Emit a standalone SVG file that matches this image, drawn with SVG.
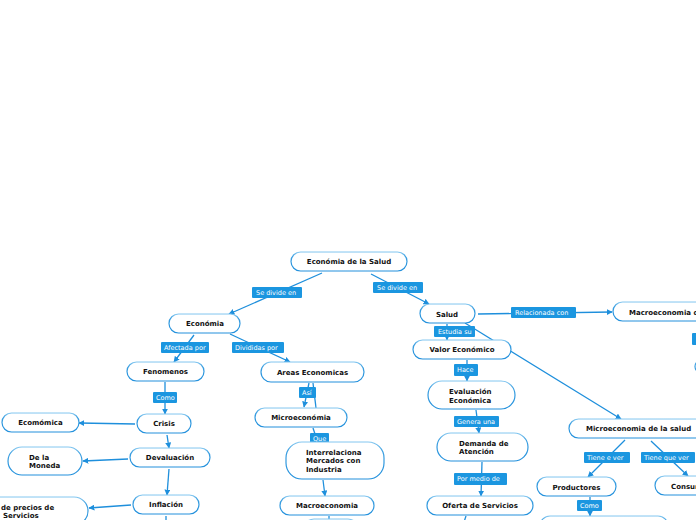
<svg xmlns="http://www.w3.org/2000/svg" width="696" height="520" viewBox="0 0 696 520">
<defs>
<linearGradient id="sg" x1="0" y1="0" x2="0" y2="1">
<stop offset="0" stop-color="#86c8f0"/>
<stop offset="0.25" stop-color="#3a9ee0"/>
<stop offset="1" stop-color="#2290dc"/>
</linearGradient>
<marker id="ah" viewBox="0 0 10 10" refX="9" refY="5" markerWidth="6" markerHeight="6" orient="auto" markerUnits="userSpaceOnUse">
<path d="M0,0 L10,5 L0,10 z" fill="#1e8fdc"/>
</marker>
<style>
.n{fill:#fff;stroke:url(#sg);stroke-width:1.2}
.t{font-family:"DejaVu Sans",Verdana,sans-serif;font-size:7px;font-weight:bold;fill:#111}
.c{text-anchor:middle}
.e{stroke:#1e8fdc;stroke-width:1.3;fill:none}
.a{marker-end:url(#ah)}
.lb{fill:#1b96e0}
.lt{font-family:"DejaVu Sans",Verdana,sans-serif;font-size:6.5px;fill:#fff}
</style>
</defs>
<rect width="696" height="520" fill="#fff"/>
<g id="connectors">
<line class="e a" x1="322" y1="273" x2="229" y2="314"/>
<line class="e a" x1="371" y1="274" x2="429" y2="304"/>
<line class="e a" x1="478" y1="314" x2="612" y2="312"/>
<line class="e a" x1="447" y1="324" x2="447" y2="340"/>
<line class="e a" x1="465" y1="323" x2="621" y2="419"/>
<line class="e a" x1="194" y1="335" x2="174" y2="362"/>
<line class="e a" x1="230" y1="334" x2="290" y2="362"/>
<line class="e a" x1="165" y1="382" x2="165" y2="414"/>
<line class="e a" x1="135" y1="424" x2="79" y2="423"/>
<line class="e a" x1="167" y1="435" x2="169" y2="448"/>
<line class="e a" x1="128" y1="459" x2="83" y2="461"/>
<line class="e a" x1="169" y1="469" x2="167" y2="495"/>
<line class="e a" x1="131" y1="505" x2="89" y2="508"/>
<line class="e" x1="166" y1="516" x2="166" y2="522"/>
<line class="e a" x1="309" y1="383" x2="304" y2="407"/>
<line class="e" x1="313" y1="383" x2="316" y2="408"/>
<line class="e a" x1="313" y1="428" x2="318" y2="443"/>
<line class="e a" x1="323" y1="480" x2="325" y2="496"/>
<line class="e" x1="329" y1="516" x2="329" y2="522"/>
<line class="e a" x1="467" y1="360" x2="467" y2="381"/>
<line class="e a" x1="476" y1="410" x2="479" y2="433"/>
<line class="e a" x1="482" y1="462" x2="481" y2="496"/>
<line class="e" x1="466" y1="516" x2="464" y2="522"/>
<line class="e a" x1="625" y1="440" x2="588" y2="477"/>
<line class="e a" x1="651" y1="441" x2="688" y2="476"/>
<line class="e a" x1="590" y1="497" x2="590" y2="516"/>
</g>
<g id="labels">
<rect class="lb" x="252" y="287" width="50" height="11" rx="1"/><text class="lt" x="256" y="295">Se divide en</text>
<rect class="lb" x="373" y="282" width="50" height="11" rx="1"/><text class="lt" x="377" y="290">Se divide en</text>
<rect class="lb" x="511" y="307" width="65" height="11" rx="1"/><text class="lt" x="515" y="315">Relacionada con</text>
<rect class="lb" x="434" y="326" width="41" height="11" rx="1"/><text class="lt" x="438" y="334">Estudia su</text>
<rect class="lb" x="161" y="342" width="48" height="11" rx="1"/><text class="lt" x="164" y="350">Afectada por</text>
<rect class="lb" x="232" y="342" width="52" height="11" rx="1"/><text class="lt" x="235" y="350">Divididas por</text>
<rect class="lb" x="153" y="392" width="24" height="11" rx="1"/><text class="lt" x="156" y="400">Como</text>
<rect class="lb" x="299" y="387" width="17" height="11" rx="1"/><text class="lt" x="302" y="395">Así</text>
<rect class="lb" x="310" y="433" width="19" height="10" rx="1"/><text class="lt" x="313" y="441">Que</text>
<rect class="lb" x="454" y="364" width="24" height="12" rx="1"/><text class="lt" x="457" y="372">Hace</text>
<rect class="lb" x="454" y="416" width="45" height="11" rx="1"/><text class="lt" x="457" y="424">Genera una</text>
<rect class="lb" x="454" y="473" width="53" height="12" rx="1"/><text class="lt" x="457" y="481">Por medio de</text>
<rect class="lb" x="584" y="452" width="46" height="11" rx="1"/><text class="lt" x="587" y="460">Tiene e ver</text>
<rect class="lb" x="641" y="452" width="54" height="11" rx="1"/><text class="lt" x="644" y="460">Tiene que ver</text>
<rect class="lb" x="577" y="500" width="25" height="11" rx="1"/><text class="lt" x="580" y="508">Como</text>
<rect class="lb" x="692" y="333" width="10" height="12" rx="1"/>
</g>
<g id="n-root"><rect class="n" x="291" y="252" width="116" height="19" rx="9.5"/><text class="t c" x="349" y="264">Económia de la Salud</text></g>
<g id="n-economia"><rect class="n" x="169" y="314" width="71" height="19" rx="9.5"/><text class="t c" x="205" y="326">Económia</text></g>
<g id="n-salud"><rect class="n" x="420" y="304" width="55" height="19" rx="9.5"/><text class="t c" x="447" y="316.5">Salud</text></g>
<g id="n-macrosalud"><rect class="n" x="613" y="302" width="110" height="19" rx="9.5"/><text class="t" x="629" y="314.5">Macroeconomia de la salud</text></g>
<g id="n-fenomenos"><rect class="n" x="127" y="362" width="77" height="19" rx="9.5"/><text class="t c" x="165.5" y="374">Fenomenos</text></g>
<g id="n-areas"><rect class="n" x="261" y="362" width="103" height="20" rx="10"/><text class="t c" x="312.5" y="374.5">Areas Economicas</text></g>
<g id="n-valor"><rect class="n" x="413" y="340" width="98" height="19" rx="9.5"/><text class="t c" x="462" y="352">Valor Económico</text></g>
<g id="n-evaluacion"><rect class="n" x="428" y="381" width="87" height="28" rx="14"/><text class="t" x="449" y="394">Evaluación</text><text class="t" x="449" y="402.5">Económica</text></g>
<g id="n-microeconomia"><rect class="n" x="255" y="408" width="92" height="19" rx="9.5"/><text class="t c" x="301" y="420">Microeconómia</text></g>
<g id="n-crisis"><rect class="n" x="137" y="414" width="54" height="19" rx="9.5"/><text class="t c" x="164" y="426">Crisis</text></g>
<g id="n-ecomomica"><rect class="n" x="2" y="413" width="77" height="19" rx="9.5"/><text class="t c" x="40.5" y="425">Ecomómica</text></g>
<g id="n-interrelaciona"><rect class="n" x="286" y="442" width="98" height="37" rx="16"/><text class="t" x="306" y="454.5">Interrelaciona</text><text class="t" x="306" y="463">Mercados con</text><text class="t" x="306" y="471.5">Industria</text></g>
<g id="n-moneda"><rect class="n" x="8" y="447" width="74" height="28" rx="14"/><text class="t" x="29" y="459.5">De la</text><text class="t" x="29" y="468">Moneda</text></g>
<g id="n-devaluacion"><rect class="n" x="130" y="448" width="80" height="19" rx="9.5"/><text class="t c" x="170" y="460">Devaluación</text></g>
<g id="n-demanda"><rect class="n" x="437" y="433" width="91" height="28" rx="14"/><text class="t" x="459" y="445.5">Demanda de</text><text class="t" x="459" y="454">Atención</text></g>
<g id="n-microsalud"><rect class="n" x="569" y="419" width="140" height="19" rx="9.5"/><text class="t" x="586" y="431">Microeconomia de la salud</text></g>
<g id="n-productores"><rect class="n" x="537" y="477" width="79" height="19" rx="9.5"/><text class="t c" x="576.5" y="489.5">Productores</text></g>
<g id="n-consumidores"><rect class="n" x="655" y="476" width="80" height="19" rx="9.5"/><text class="t" x="671" y="488.5">Consumidores</text></g>
<g id="n-inflacion"><rect class="n" x="133" y="495" width="66" height="19" rx="9.5"/><text class="t c" x="166" y="507">Inflación</text></g>
<g id="n-precios"><rect class="n" x="-40" y="497" width="128" height="28" rx="14"/><text class="t" x="1" y="509.5">de precios de</text><text class="t" x="3" y="518">Servicios</text></g>
<g id="n-macroeconomia"><rect class="n" x="280" y="496" width="94" height="19" rx="9.5"/><text class="t c" x="327" y="508">Macroeconomia</text></g>
<g id="n-oferta"><rect class="n" x="427" y="496" width="106" height="19" rx="9.5"/><text class="t c" x="480" y="508">Oferta de Servicios</text></g>
<g id="n-prod-child"><rect class="n" x="540" y="516" width="128" height="20" rx="10"/></g>
<g id="n-macro-child"><rect class="n" x="304" y="519" width="54" height="20" rx="10"/></g>
<g id="n-right-partial"><rect class="n" x="695" y="360" width="60" height="13" rx="6.5"/></g>
</svg>
